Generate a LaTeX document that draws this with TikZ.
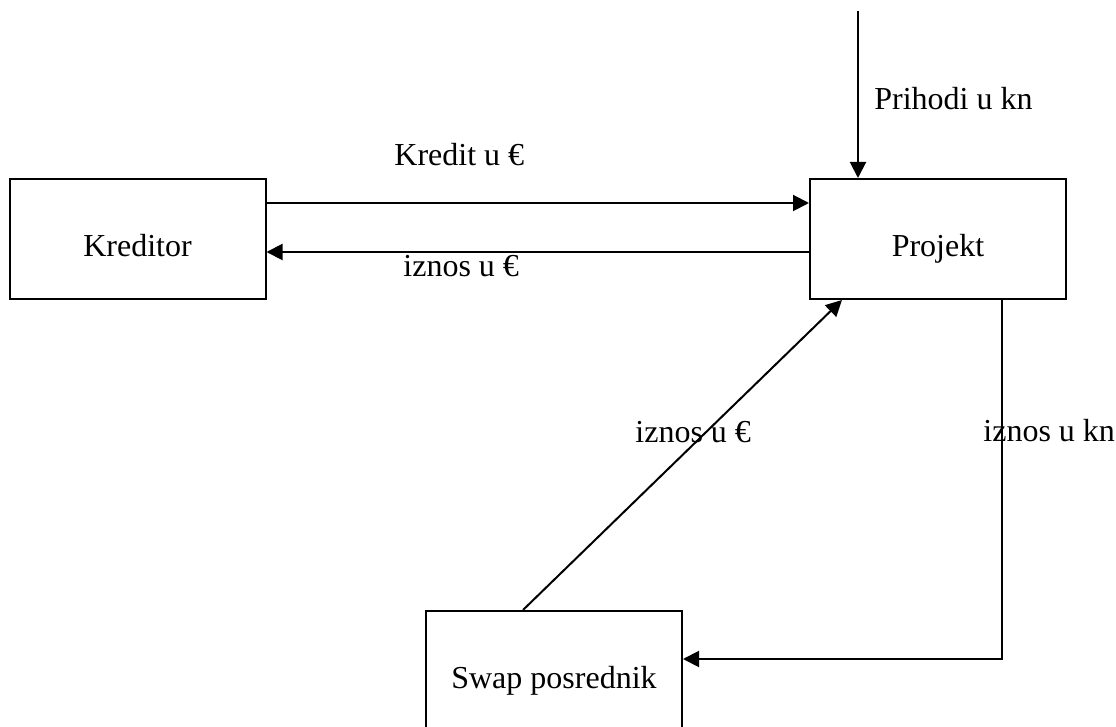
\documentclass[tikz,border=0pt]{standalone}
\usepackage{fontspec}
\setmainfont{Liberation Serif}
\usetikzlibrary{arrows.meta,positioning}

\begin{document}
\begin{tikzpicture}[x=0.5pt, y=-0.5pt,
    box/.style={draw, line width=1pt, minimum width=128pt, minimum height=60pt, text height=18pt, text depth=0pt, inner sep=0pt},
    flow/.style={line width=1pt, -{Triangle[length=8pt,width=8pt]}},
    lbl/.style={anchor=base west, inner sep=0pt},
    font=\fontsize{16pt}{19pt}\selectfont]
\useasboundingbox (0,0) rectangle (1116,727);

% Draw the three boxes
\foreach \n/\x/\y/\t in {kreditor/137.5/239/Kreditor, projekt/938/239/Projekt, swap/554/671/Swap posrednik} {
    \node[box] (\n) at (\x,\y) {\t};
}

% Free end of the income arrow
\coordinate (prihodi) at (858,11);

% Draw the money flows
\draw[flow] ([yshift=18pt]kreditor.east) -- ([yshift=18pt]projekt.west);
\draw[flow] ([yshift=-6.5pt]projekt.west) -- ([yshift=-6.5pt]kreditor.east);
\draw[flow] (prihodi) -- (prihodi |- projekt.north);
\draw[flow] ([xshift=-15.5pt]swap.north) -- ([xshift=-48pt]projekt.south);
\draw[flow] ([xshift=32pt]projekt.south) |- ([yshift=6pt]swap.east);

% Labels of the flows
\node[lbl] (kredit) at (394,166) {Kredit u €};
\node[lbl] (iznoskred) at (403,277) {iznos u €};
\node[lbl] (prihod) at (874,110) {Prihodi u kn};
\node[lbl] (iznoseur) at (635,443) {iznos u €};
\node[lbl] (iznoskn) at (983,442) {iznos u kn};
\end{tikzpicture}
\end{document}
